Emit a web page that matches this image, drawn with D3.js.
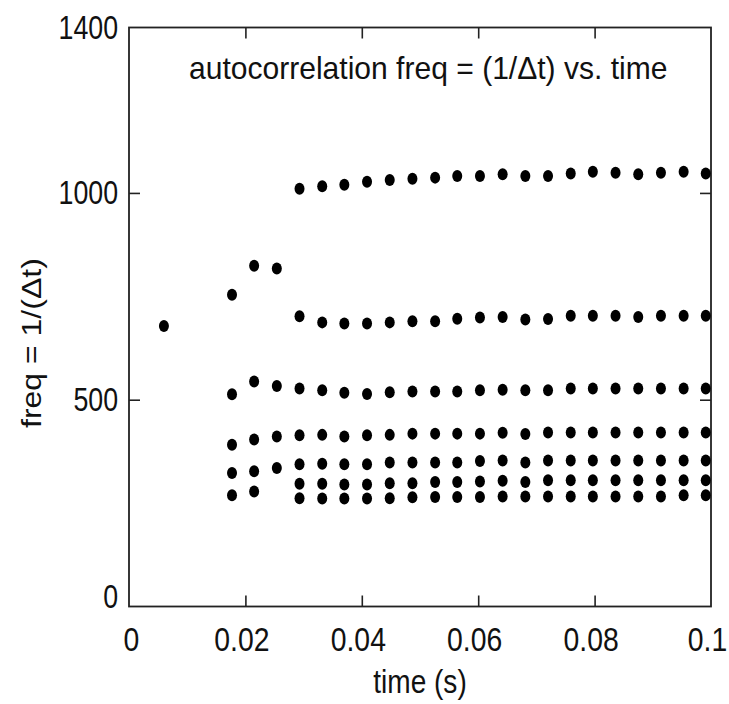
<!DOCTYPE html>
<html>
<head>
<meta charset="utf-8">
<script src="https://cdn.jsdelivr.net/npm/d3@7/dist/d3.min.js"></script>
<style>
  html, body { margin: 0; padding: 0; background: #fff; }
  svg { display: block; }
  text { font-family: "Liberation Sans", Arial, Helvetica, sans-serif; fill: #111; }
</style>
</head>
<body>
<div id="chart"></div>
<script>
// Sample times (s) of each autocorrelation frame
const times = [0.0060, 0.0177, 0.0215, 0.0254, 0.0293, 0.0332, 0.0370, 0.0409,
               0.0448, 0.0487, 0.0526, 0.0564, 0.0603, 0.0642, 0.0681, 0.0720,
               0.0759, 0.0797, 0.0836, 0.0875, 0.0914, 0.0953, 0.0991];

// Frequency (Hz) of each autocorrelation peak per frame; null where no peak
const peak1 = [null, null, null, null, 1010, 1016, 1020, 1027, 1031, 1034, 1037, 1041,
               1041, 1045, 1041, 1041, 1047, 1051, 1049, 1045, 1049, 1051, 1047];
const peak2 = [678, 754, 824, 817, 702, 687, 684, 684, 687, 690, 690, 696,
               699, 700, 694, 695, 703, 703, 703, 700, 703, 703, 703];
const peak3 = [null, 513, 544, 533, 527, 523, 517, 514, 518, 520, 520, 520,
               523, 524, 523, 523, 527, 527, 527, 527, 527, 527, 527];
const peak4 = [null, 391, 404, 411, 414, 415, 411, 414, 415, 418, 418, 418,
               418, 420, 417, 421, 421, 421, 421, 421, 421, 421, 421];
const peak5 = [null, 323, 327, 335, 344, 345, 344, 344, 348, 348, 348, 348,
               352, 353, 348, 353, 353, 353, 353, 353, 353, 353, 353];
const peak6 = [null, null, null, null, 297, 297, 295, 295, 298, 298, 301, 301,
               302, 304, 301, 305, 305, 305, 305, 305, 305, 305, 305];
const peak7 = [null, 269, 278, null, 262, 261, 261, 261, 262, 264, 265, 265,
               265, 266, 266, 266, 266, 266, 266, 266, 266, 269, 269];

// Axis ticks
const xTicks = [0, 0.02, 0.04, 0.06, 0.08, 0.1];
const xTickLabels = ["0", "0.02", "0.04", "0.06", "0.08", "0.1"];
const yTicks = [0, 500, 1000, 1400];
const yTickLabels = ["0", "500", "1000", "1400"];

const titleText = "autocorrelation freq = (1/\u0394t) vs. time";
const xLabel = "time (s)";
const yLabel = "freq = 1/(\u0394t)";

const W = 729, H = 704;
const margin = { left: 129, right: 18, top: 27.5, bottom: 97.5 };
const iw = W - margin.left - margin.right;
const ih = H - margin.top - margin.bottom;

const x = d3.scaleLinear().domain([0, 0.1]).range([0, iw]);
const y = d3.scaleLinear().domain([0, 1400]).range([ih, 0]);

// Lettering is set in a condensed Helvetica look
const squeezeX = 0.86;
const squeezeY = 0.81;
const tickFont = 33;

const svg = d3.select("#chart").append("svg")
  .attr("width", W).attr("height", H);

const g = svg.append("g")
  .attr("transform", `translate(${margin.left},${margin.top})`);

const axisColor = "#222";
const tickLen = 11;
const innerX = xTicks.filter(v => v > 0 && v < 0.1);
const innerY = yTicks.filter(v => v > 0 && v < 1400);

// Bottom axis labels
const bottom = g.append("g").attr("transform", `translate(0,${ih})`)
  .call(d3.axisBottom(x).tickValues(xTicks)
    .tickFormat((d, i) => xTickLabels[i]).tickSize(0));
bottom.select(".domain").remove();
bottom.selectAll("text")
  .attr("font-size", tickFont)
  .attr("y", null).attr("dy", null)
  .attr("transform", (d, i) => `translate(${i === 0 ? 2 : -4},44) scale(${squeezeX},1)`);

// Inward ticks on bottom and top
g.append("g").attr("transform", `translate(0,${ih})`)
  .call(d3.axisBottom(x).tickValues(innerX).tickFormat("").tickSizeInner(-tickLen).tickSizeOuter(0))
  .call(s => s.select(".domain").remove());
g.append("g")
  .call(d3.axisTop(x).tickValues(innerX).tickFormat("").tickSizeInner(-tickLen).tickSizeOuter(0))
  .call(s => s.select(".domain").remove());

// Left axis labels
const left = g.append("g")
  .call(d3.axisLeft(y).tickValues(yTicks)
    .tickFormat((d, i) => yTickLabels[i]).tickSize(0));
left.select(".domain").remove();
left.selectAll("text")
  .attr("font-size", tickFont)
  .attr("x", null)
  .attr("transform", d => `translate(-11,${d === 0 ? -10 : 0}) scale(${squeezeY},1)`);

// Inward ticks on left and right
g.append("g")
  .call(d3.axisLeft(y).tickValues(innerY).tickFormat("").tickSizeInner(-tickLen).tickSizeOuter(0))
  .call(s => s.select(".domain").remove());
g.append("g").attr("transform", `translate(${iw},0)`)
  .call(d3.axisRight(y).tickValues(innerY).tickFormat("").tickSizeInner(-tickLen).tickSizeOuter(0))
  .call(s => s.select(".domain").remove());

g.selectAll(".tick line").attr("stroke", axisColor).attr("stroke-width", 1.6);

// Plot frame
g.append("rect")
  .attr("x", 0).attr("y", 0).attr("width", iw).attr("height", ih)
  .attr("fill", "none").attr("stroke", axisColor).attr("stroke-width", 1.8);

// Peak dots
const series = [peak1, peak2, peak3, peak4, peak5, peak6, peak7];
const points = [];
series.forEach(s => s.forEach((v, i) => { if (v != null) points.push({ t: times[i], f: v }); }));

g.append("g").selectAll("ellipse").data(points).join("ellipse")
  .attr("cx", d => x(d.t))
  .attr("cy", d => y(d.f))
  .attr("rx", 5)
  .attr("ry", 6)
  .attr("fill", "#000");

// Title inside the plot
svg.append("text")
  .attr("transform", `translate(189,79) scale(0.97,1)`)
  .attr("font-size", 31)
  .text(titleText);

// Axis titles
svg.append("text")
  .attr("transform", `translate(${margin.left + x(0.05)},693) scale(0.85,1)`)
  .attr("text-anchor", "middle")
  .attr("font-size", 33)
  .text(xLabel);

svg.append("text")
  .attr("transform", `translate(41,428) rotate(-90) scale(1,0.85)`)
  .attr("text-anchor", "start")
  .attr("font-size", 32)
  .text(yLabel);
</script>
</body>
</html>
